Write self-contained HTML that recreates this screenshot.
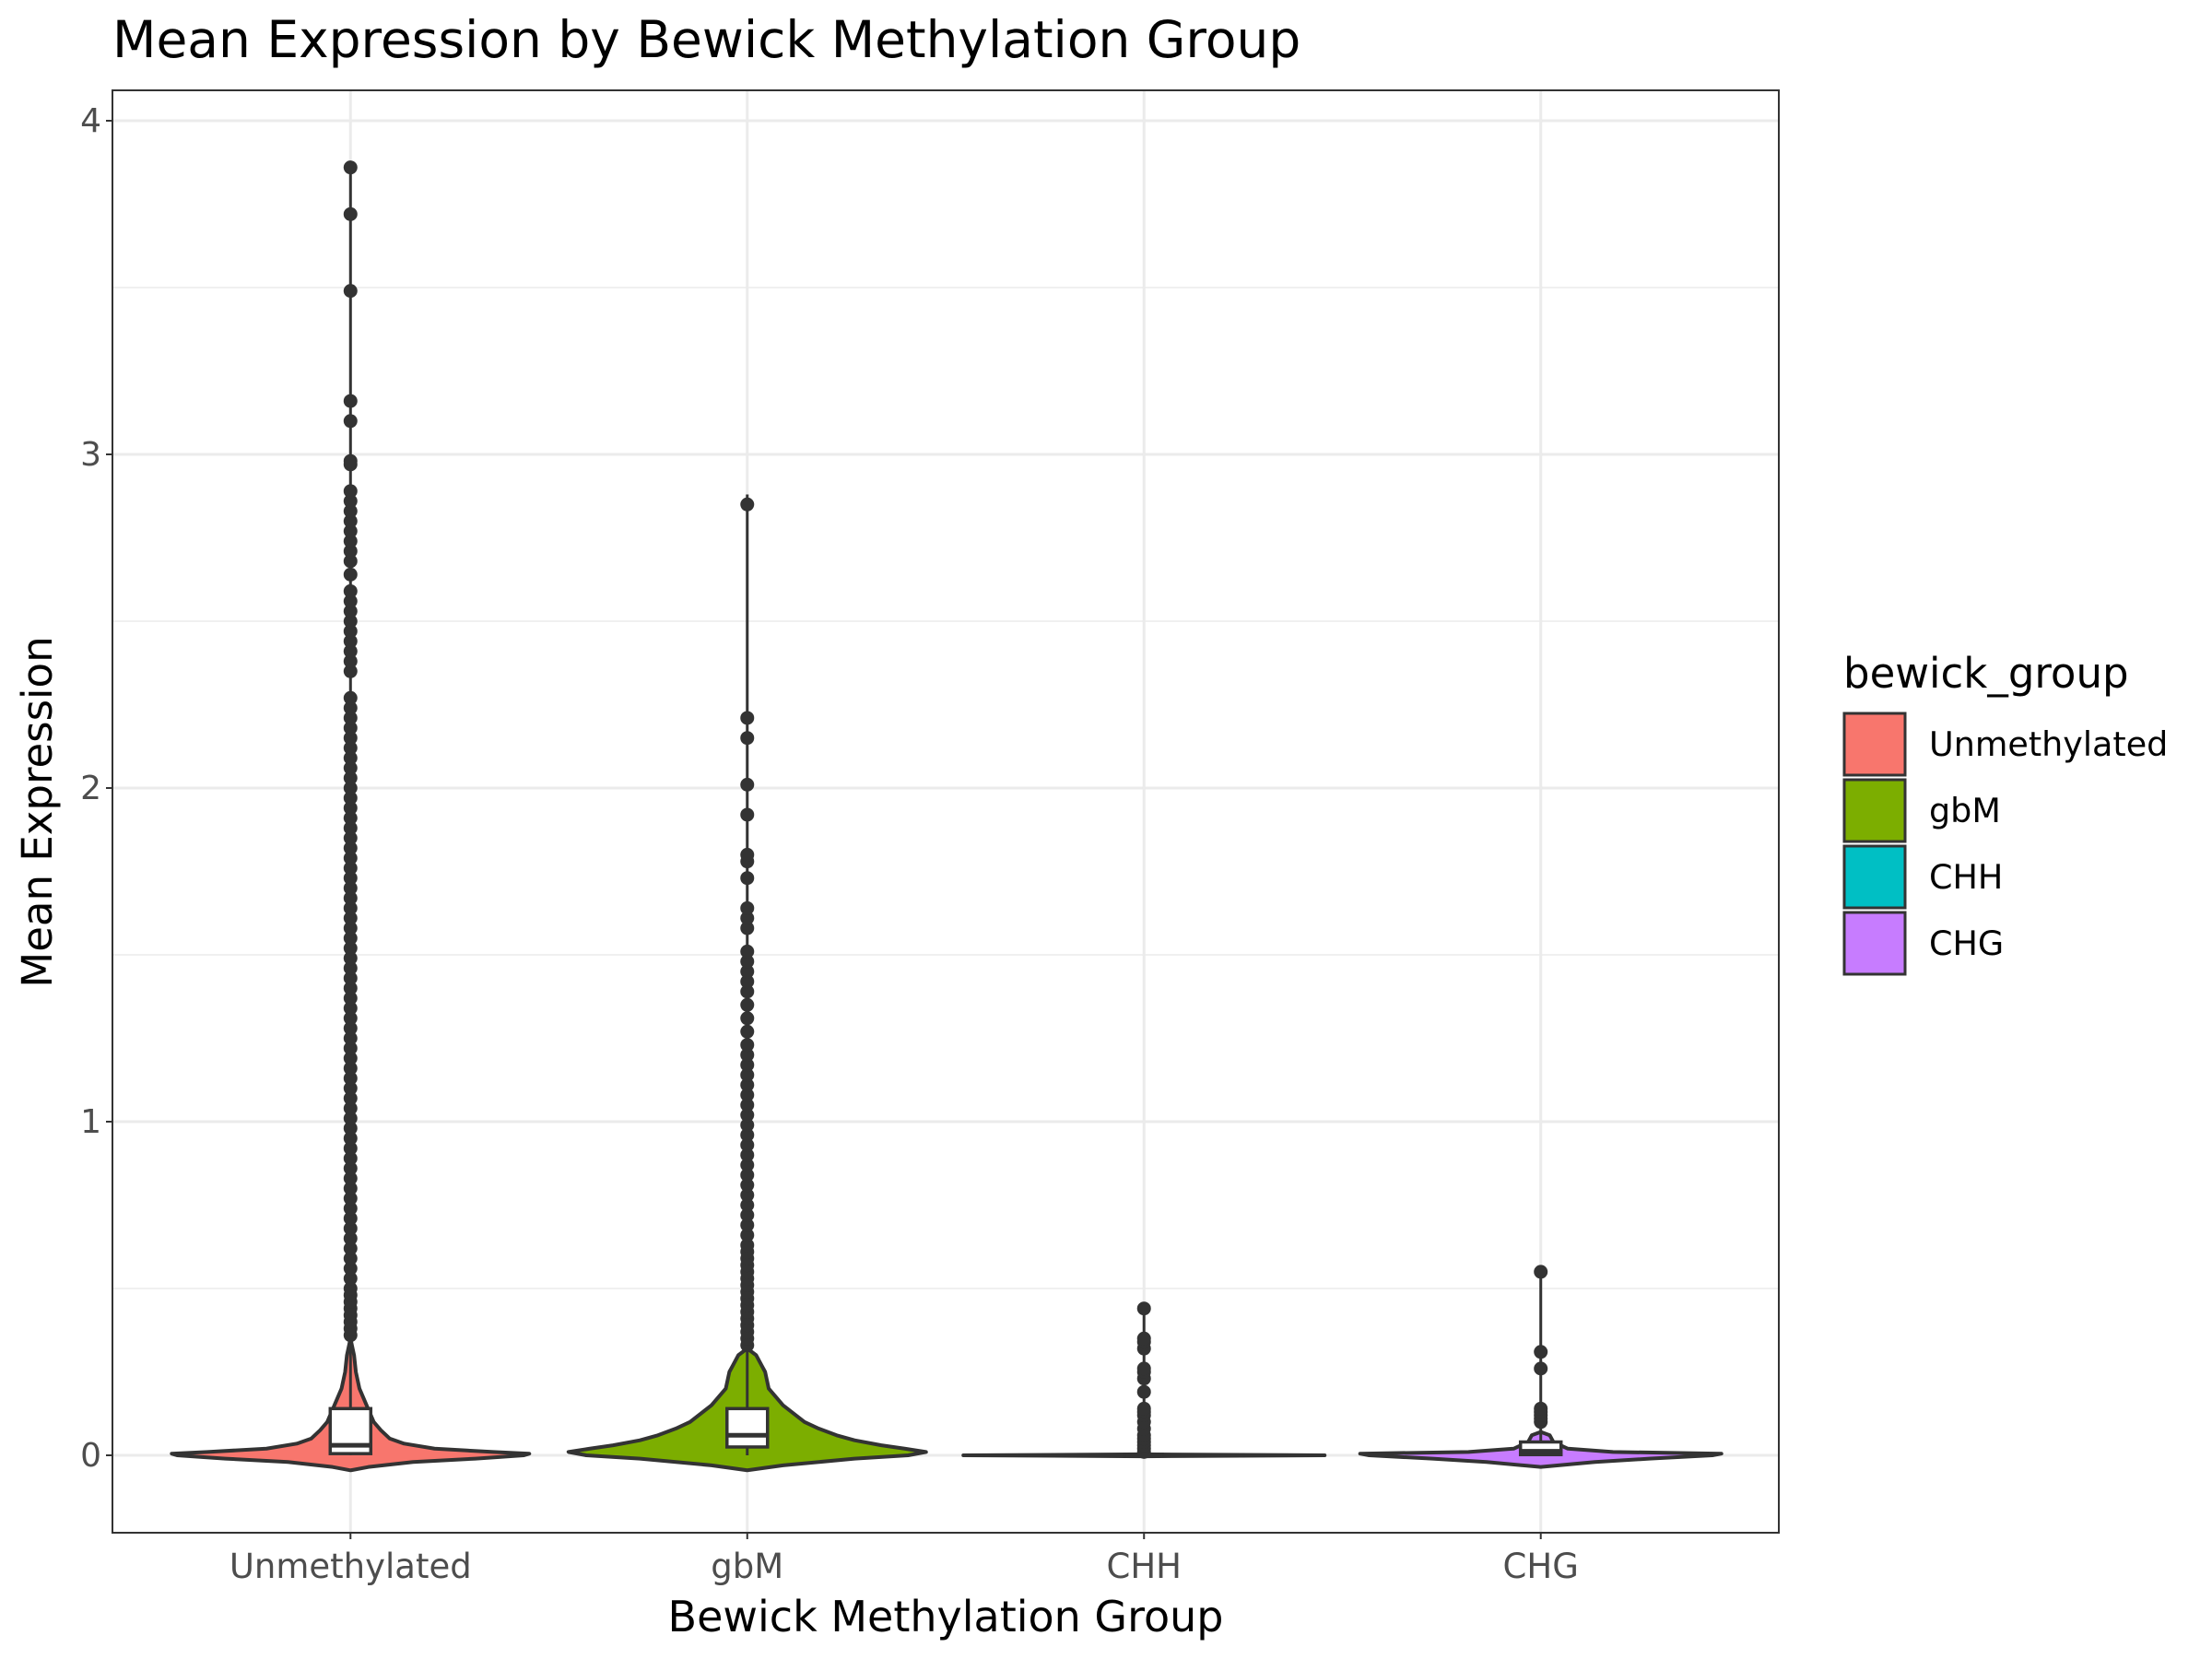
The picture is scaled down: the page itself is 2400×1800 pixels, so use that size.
<!DOCTYPE html>
<html><head><meta charset="utf-8"><style>
html,body{margin:0;padding:0;background:#fff;}
svg{display:block;font-family:"DejaVu Sans","Liberation Sans",sans-serif;}
</style></head><body>
<svg id="chart" width="2400" height="1800" viewBox="0 0 2400 1800">
<text x="122" y="62" font-size="55" fill="#000">Mean Expression by Bewick Methylation Group</text>
<g id="grid"></g>
<g id="marks"></g>
<rect x="122" y="98" width="1808" height="1565" fill="none" stroke="#333" stroke-width="2"/>
<g id="axes"></g>
<text x="1026" y="1770" font-size="46" text-anchor="middle" fill="#000">Bewick Methylation Group</text>
<text transform="translate(56,881) rotate(-90)" font-size="45" text-anchor="middle" fill="#000">Mean Expression</text>
<g id="legend"></g>
</svg>
<script>
const categories = ["Unmethylated","gbM","CHH","CHG"];
const colors = ["#F8766D","#7CAE00","#00BFC4","#C77CFF"];
const yTicks = [0,1,2,3,4];
const yTickLabels = ["0","1","2","3","4"];
const yMinor = [0.5,1.5,2.5,3.5];
// violin density profiles (y value, relative half-width)
const violinY = [
 [-0.045,-0.035,-0.02,-0.01,0,0.005,0.01,0.02,0.035,0.05,0.075,0.1,0.15,0.2,0.25,0.3,0.35],
 [-0.045,-0.03,-0.01,0,0.01,0.02,0.03,0.045,0.06,0.08,0.1,0.15,0.2,0.25,0.27,0.3,0.32],
 [-0.003,0,0.003],
 [-0.035,-0.02,-0.01,0,0.005,0.01,0.02,0.04,0.06,0.07]
];
const violinW = [
 [0,0.1,0.35,0.7,0.97,1.0,0.8,0.47,0.3,0.22,0.17,0.13,0.09,0.05,0.03,0.02,0],
 [0,0.2,0.6,0.9,1.0,0.88,0.75,0.6,0.5,0.4,0.32,0.2,0.12,0.1,0.08,0.05,0],
 [0,1,0],
 [0,0.3,0.6,0.95,1.0,0.4,0.15,0.07,0.05,0]
];
// box stats
const q1 = [0.005,0.025,0,0.002];
const med = [0.03,0.06,0,0.012];
const q3 = [0.14,0.14,0.003,0.04];
const maxVal = [3.88,2.88,0.44,0.55];
const outliers = [
 [0.36,0.38,0.4,0.42,0.44,0.46,0.48,0.5,0.53,0.56,0.59,0.62,0.65,0.68,0.71,0.74,0.77,0.8,0.83,0.86,0.89,0.92,0.95,0.98,1.01,1.04,1.07,1.1,1.13,1.16,1.19,1.22,1.25,1.28,1.31,1.34,1.37,1.4,1.43,1.46,1.49,1.52,1.55,1.58,1.61,1.64,1.67,1.7,1.73,1.76,1.79,1.82,1.85,1.88,1.91,1.94,1.97,2.0,2.03,2.06,2.09,2.12,2.15,2.18,2.21,2.24,2.27,2.35,2.38,2.41,2.44,2.47,2.5,2.53,2.56,2.59,2.64,2.68,2.71,2.74,2.77,2.8,2.83,2.86,2.89,2.97,2.98,3.1,3.16,3.49,3.72,3.86],
 [0.33,0.35,0.37,0.39,0.41,0.43,0.45,0.47,0.49,0.51,0.53,0.55,0.57,0.59,0.61,0.63,0.66,0.69,0.72,0.75,0.78,0.81,0.84,0.87,0.9,0.93,0.96,0.99,1.02,1.05,1.08,1.11,1.14,1.17,1.2,1.23,1.27,1.31,1.35,1.39,1.42,1.45,1.48,1.51,1.58,1.61,1.64,1.73,1.78,1.8,1.92,2.01,2.15,2.21,2.85],
 [0.01,0.02,0.03,0.04,0.05,0.06,0.08,0.1,0.12,0.13,0.14,0.19,0.23,0.25,0.26,0.32,0.34,0.35,0.44],
 [0.1,0.11,0.12,0.13,0.14,0.26,0.31,0.55]
];
const NS="http://www.w3.org/2000/svg";
const X0=122,X1=1930,Y0=98,Y1=1663;
const yZero=1579, yPerUnit=362;
function ys(v){return yZero - v*yPerUnit;}
const xStep=(X1-X0)/4.2;
function xs(i){return X0 + xStep*(i+0.6);}
const maxHalf=[194,194,196,196];
function mk(tag,attrs,parent){const e=document.createElementNS(NS,tag);for(const k in attrs)e.setAttribute(k,attrs[k]);parent.appendChild(e);return e;}
const grid=document.getElementById('grid'),marks=document.getElementById('marks'),axes=document.getElementById('axes'),legend=document.getElementById('legend');
mk('rect',{x:X0,y:Y0,width:X1-X0,height:Y1-Y0,fill:'#fff'},grid);
yMinor.forEach(v=>{const l=mk('line',{x1:X0,x2:X1,y1:ys(v),y2:ys(v),stroke:'#ebebeb','stroke-width':1.5},grid);

});
yTicks.forEach((v,i)=>{const l=mk('line',{x1:X0,x2:X1,y1:ys(v),y2:ys(v),stroke:'#ebebeb','stroke-width':3},grid);


const t=mk('line',{x1:X0-7,x2:X0,y1:ys(v),y2:ys(v),stroke:'#333','stroke-width':2},axes);


const tx=mk('text',{x:X0-12,y:ys(v)+12,'font-size':36,'text-anchor':'end',fill:'#4d4d4d'},axes);
tx.textContent=yTickLabels[i];

});
categories.forEach((c,i)=>{const x=xs(i);
const l=mk('line',{x1:x,x2:x,y1:Y0,y2:Y1,stroke:'#ebebeb','stroke-width':3},grid);


const t=mk('line',{x1:x,x2:x,y1:Y1,y2:Y1+7,stroke:'#333','stroke-width':2},axes);


const tx=mk('text',{x:x,y:1712,'font-size':37,'text-anchor':'middle',fill:'#4d4d4d'},axes);
tx.textContent=c;


const g=mk('g',{},marks);


const yv=violinY[i],wv=violinW[i];let r=[],lft=[];
for(let k=0;k<yv.length;k++){const w=wv[k]*maxHalf[i];r.push((x+w)+','+ys(yv[k]));lft.unshift((x-w)+','+ys(yv[k]));}
const p=mk('polygon',{points:r.concat(lft).join(' '),fill:colors[i],stroke:'#333','stroke-width':4,'stroke-linejoin':'round'},g);


const wl=mk('line',{x1:x,x2:x,y1:ys(q3[i]),y2:ys(maxVal[i]),stroke:'#333','stroke-width':3},g);


const wl2=mk('line',{x1:x,x2:x,y1:ys(q1[i]),y2:ys(Math.min(q1[i],0)),stroke:'#333','stroke-width':3},g);


outliers[i].forEach(v=>{const ci=mk('circle',{cx:x,cy:ys(v),r:7.5,fill:'#333'},g);

});
const bw=i==2?20:22;
const b=mk('rect',{x:x-bw,y:ys(q3[i]),width:2*bw,height:Math.max(ys(q1[i])-ys(q3[i]),1),fill:'#fff',stroke:'#333','stroke-width':3.5},g);


const m=mk('line',{x1:x-bw,x2:x+bw,y1:ys(med[i]),y2:ys(med[i]),stroke:'#333','stroke-width':5},g);


const ly=774+i*72;
const lr=mk('rect',{x:2001,y:ly,width:66,height:67,fill:colors[i],stroke:'#333','stroke-width':3},legend);


const lt=mk('text',{x:2093,y:ly+46,'font-size':36.5,fill:'#000'},legend);
lt.textContent=c;


});
const lgT=mk('text',{x:2000,y:746,'font-size':45,fill:'#000'},legend);
lgT.textContent='bewick_group';


</script>
</body></html>
